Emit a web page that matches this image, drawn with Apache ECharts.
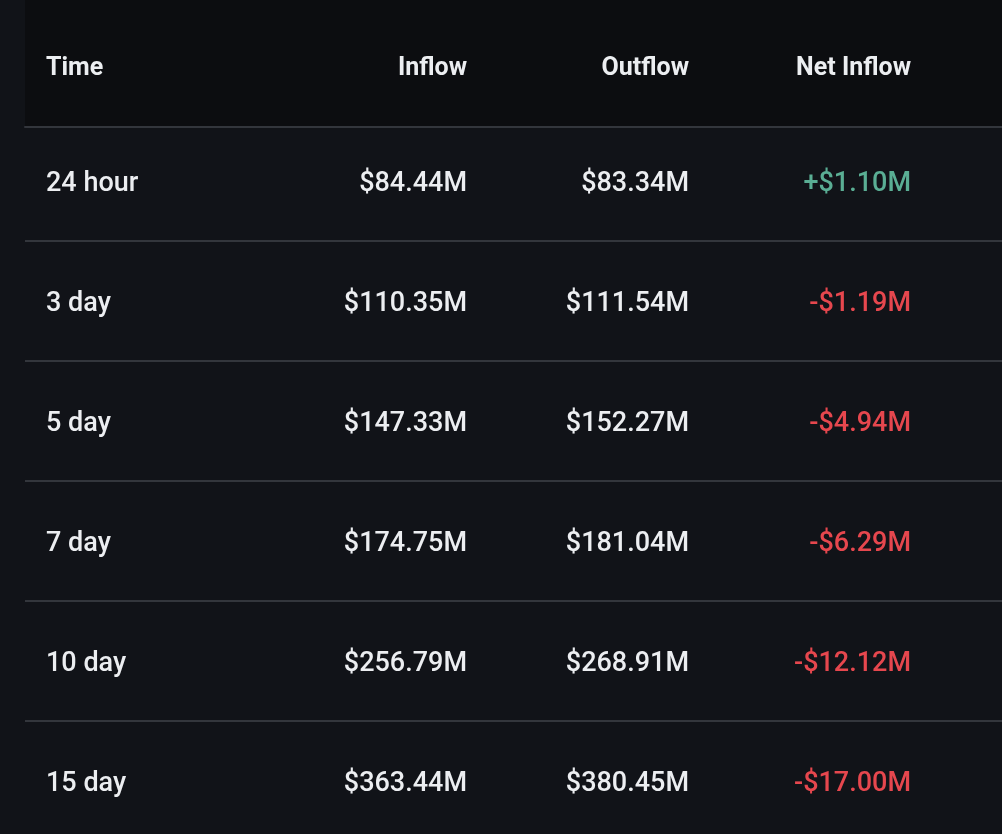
<!DOCTYPE html>
<html>

<head>
	<meta charset="UTF-8">
	<title>Net Inflow</title>
	<script src="https://cdn.jsdelivr.net/npm/echarts@6/dist/echarts.min.js"></script>
	<style>
		html, body { margin: 0; padding: 0; background: #111318; }
		#container { width: 1002px; height: 834px; }
	</style>
</head>

<body>
	<div id="container"></div>
	<script type="text/javascript">
		// 表格数据
		var columns = ['Time', 'Inflow', 'Outflow', 'Net Inflow'];
		var periods = ['24 hour', '3 day', '5 day', '7 day', '10 day', '15 day'];
		var inflow = [84.44, 110.35, 147.33, 174.75, 256.79, 363.44];
		var outflow = [83.34, 111.54, 152.27, 181.04, 268.91, 380.45];
		var netInflow = [1.10, -1.19, -4.94, -6.29, -12.12, -17.00];

		var textColor = '#eceef1';
		var upColor = '#5aae94';
		var downColor = '#e6474e';
		var lineColor = '#33363c';
		var fontFamily = 'Roboto, "Noto Sans", sans-serif';

		function money(v) {
			return '$' + Math.abs(v).toFixed(2) + 'M';
		}

		function cellText(col, row) {
			if (col === 0) return periods[row];
			if (col === 1) return money(inflow[row]);
			if (col === 2) return money(outflow[row]);
			return (netInflow[row] >= 0 ? '+' : '-') + money(netInflow[row]);
		}

		function cellColor(col, row) {
			if (col !== 3) return textColor;
			return netInflow[row] >= 0 ? upColor : downColor;
		}

		// 第一列左对齐，其余列贴着格子右边
		function textX(col, api) {
			var center = api.coord([col, 0])[0];
			var half = api.size([1, 0])[0] / 2;
			return col === 0 ? center - half + 23 : center + half;
		}

		function headerItem(params, api) {
			var col = api.value(0);
			var p = api.coord([col, 0]);
			return {
				type: 'text',
				x: textX(col, api),
				y: p[1] + 2,
				style: {
					text: columns[col],
					fill: textColor,
					fontSize: 25,
					fontWeight: 'bold',
					fontFamily: fontFamily,
					align: col === 0 ? 'left' : 'right',
					verticalAlign: 'middle'
				}
			};
		}

		function bodyItem(params, api) {
			var col = api.value(0);
			var row = api.value(1);
			var p = api.coord([col, row]);
			return {
				type: 'text',
				x: textX(col, api),
				y: p[1] + 3,
				style: {
					text: cellText(col, row),
					fill: cellColor(col, row),
					fontSize: 27,
					fontWeight: 500,
					fontFamily: fontFamily,
					align: col === 0 ? 'left' : 'right',
					verticalAlign: 'middle'
				}
			};
		}

		var cells = [];
		periods.forEach(function (p, r) {
			columns.forEach(function (c, k) {
				cells.push([k, r]);
			});
		});

		var myChart = echarts.init(document.getElementById('container'));
		var option = {
			backgroundColor: '#111318',
			animation: false,
			graphic: [{
				type: 'rect',
				z: -1,
				shape: { x: 25, y: 0, width: 977, height: 127 },
				style: { fill: '#0c0d10' }
			}],
			grid: [
				// 行分隔线（每行下边）
				{ left: 25, right: 0, top: 241, height: 480 },
				// 表体，行中心
				{ left: 23, right: 91, top: 181, height: 600 },
				// 表头
				{ left: 23, right: 91, top: 7, height: 120 }
			],
			xAxis: [{
				gridIndex: 0,
				type: 'value',
				position: 'top',
				offset: 114,
				axisLine: { show: true, lineStyle: { color: lineColor, width: 2 } },
				axisTick: { show: false },
				axisLabel: { show: false },
				splitLine: { show: false }
			}, {
				gridIndex: 1,
				type: 'category',
				data: columns,
				show: false
			}, {
				gridIndex: 2,
				type: 'category',
				data: columns,
				show: false
			}],
			yAxis: [{
				gridIndex: 0,
				type: 'category',
				inverse: true,
				boundaryGap: false,
				data: periods.slice(0, periods.length - 1),
				axisLine: { show: false },
				axisTick: { show: false },
				axisLabel: { show: false },
				splitLine: {
					show: true,
					interval: 0,
					lineStyle: { color: lineColor, width: 2 }
				}
			}, {
				gridIndex: 1,
				type: 'category',
				inverse: true,
				boundaryGap: false,
				data: periods,
				show: false
			}, {
				gridIndex: 2,
				type: 'category',
				data: ['header'],
				show: false
			}],
			series: [{
				type: 'custom',
				xAxisIndex: 2,
				yAxisIndex: 2,
				silent: true,
				renderItem: headerItem,
				data: columns.map(function (c, k) { return [k, 0]; })
			}, {
				type: 'custom',
				xAxisIndex: 1,
				yAxisIndex: 1,
				silent: true,
				renderItem: bodyItem,
				data: cells
			}]
		};
		myChart.setOption(option);
	</script>
</body>

</html>
